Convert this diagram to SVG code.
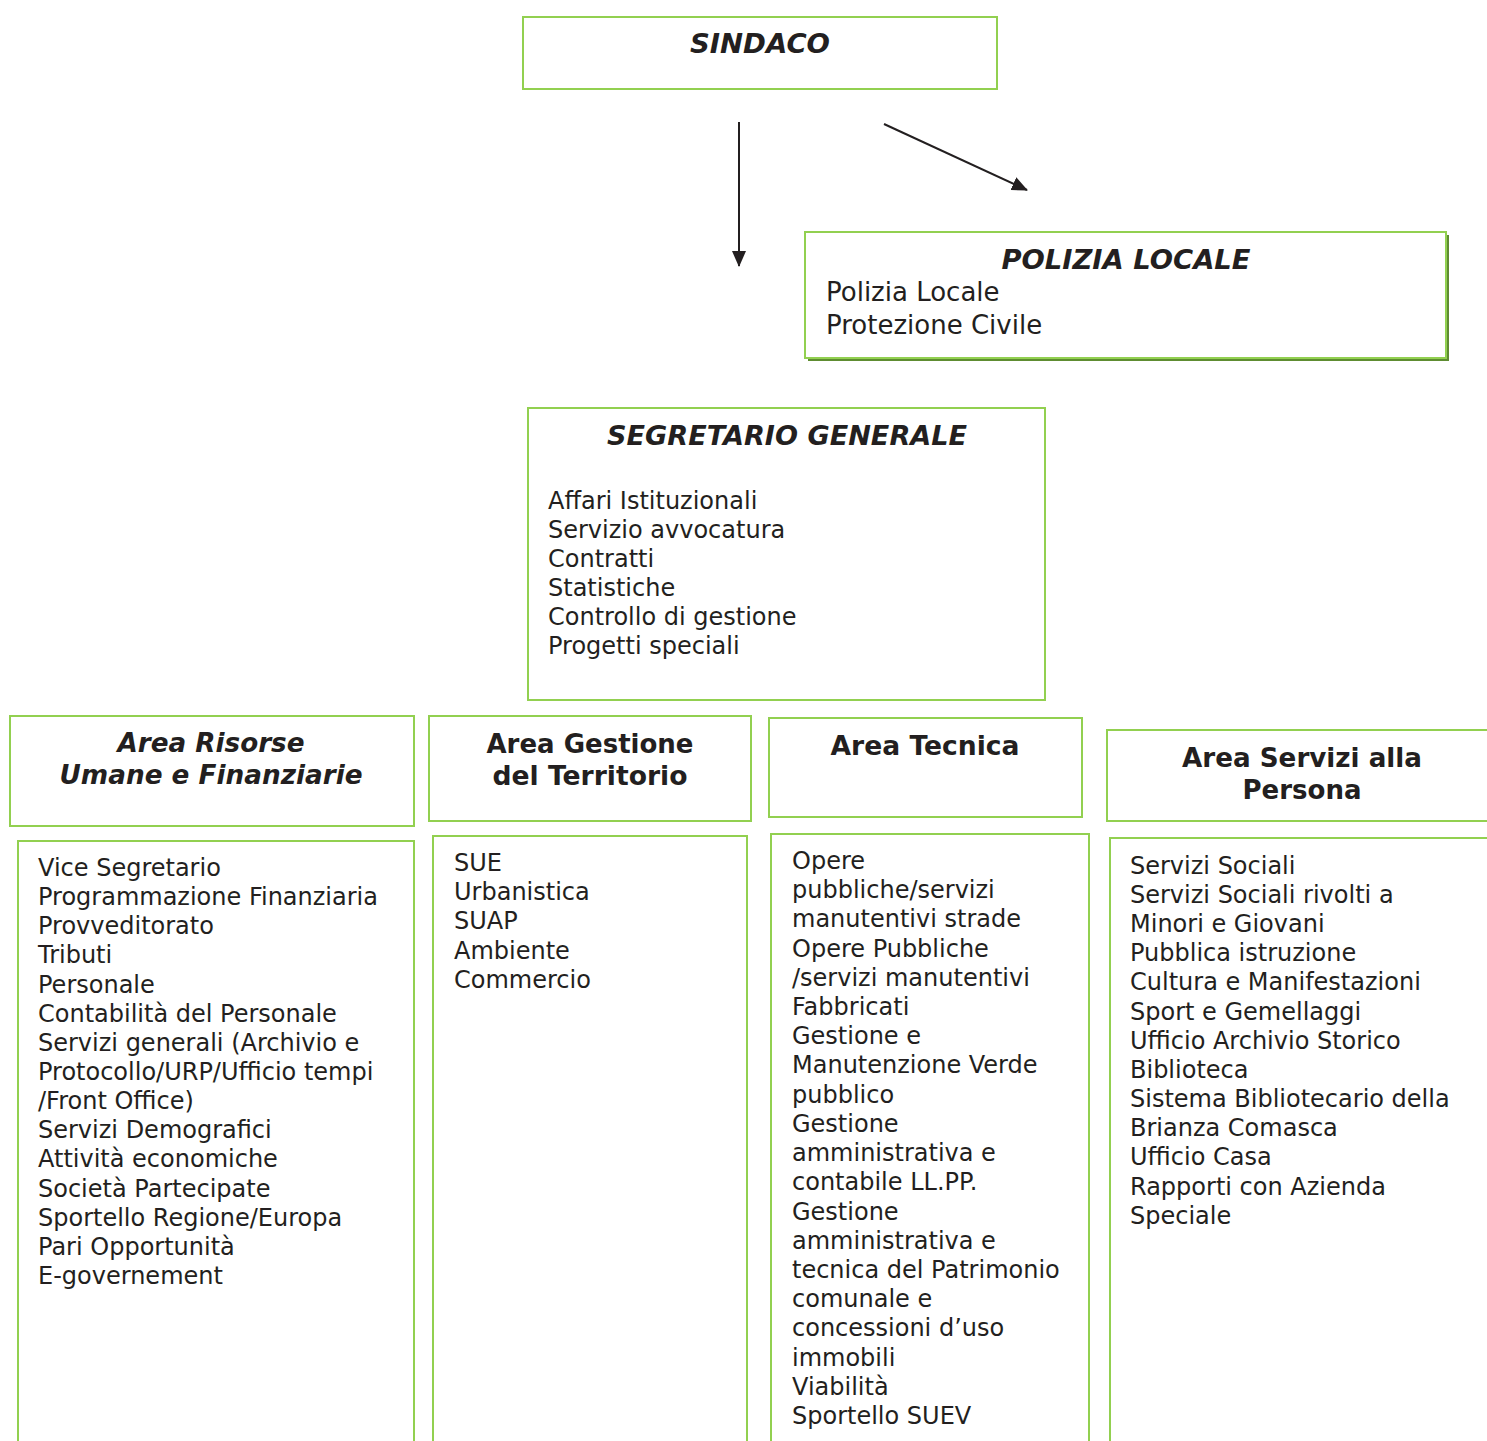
<svg xmlns="http://www.w3.org/2000/svg" width="1487" height="1441" viewBox="0 0 1487 1441">
<defs>
<style>
.box{fill:#fff;stroke:#92D050;stroke-width:2}
.t{font-family:"DejaVu Sans",Verdana,sans-serif;font-size:24px;fill:#231f20}
.p{font-size:26px}
.bi{font-weight:bold;font-style:italic;text-anchor:middle;font-size:26px}
.b{font-weight:bold;text-anchor:middle;font-size:26px}
.conn{stroke:#231f20;stroke-width:2;fill:none}
</style>
<marker id="ah" markerWidth="16" markerHeight="14" refX="15" refY="7" orient="auto" markerUnits="userSpaceOnUse" viewBox="0 0 16 14">
<path d="M0,0 L16,7 L0,14 z" fill="#231f20"/>
</marker>
</defs>
<rect width="1487" height="1441" fill="#fff"/>
<g id="connectors">
<line class="conn" x1="739" y1="122" x2="739" y2="266" marker-end="url(#ah)"/>
<line class="conn" x1="884" y1="124" x2="1027" y2="190" marker-end="url(#ah)"/>
</g>
<g id="sindaco">
<rect class="box" x="523" y="17" width="474" height="72"/>
<text class="t bi" x="760" y="53" textLength="140" lengthAdjust="spacingAndGlyphs">SINDACO</text>
</g>
<g id="polizia">
<rect x="808" y="235" width="641" height="126" fill="#5E8C31"/>
<rect class="box" x="805" y="232" width="641" height="126"/>
<text class="t bi" x="1126" y="269" textLength="249" lengthAdjust="spacingAndGlyphs">POLIZIA LOCALE</text>
<text class="t p" x="826" y="301">Polizia Locale</text>
<text class="t p" x="826" y="334">Protezione Civile</text>
</g>
<g id="segretario">
<rect class="box" x="528" y="408" width="517" height="292"/>
<text class="t bi" x="787" y="445" textLength="360" lengthAdjust="spacingAndGlyphs">SEGRETARIO GENERALE</text>
<text class="t" x="548" y="509">Affari Istituzionali</text>
<text class="t" x="548" y="538">Servizio avvocatura</text>
<text class="t" x="548" y="567">Contratti</text>
<text class="t" x="548" y="596">Statistiche</text>
<text class="t" x="548" y="625">Controllo di gestione</text>
<text class="t" x="548" y="654">Progetti speciali</text>
</g>
<g id="area-risorse">
<rect class="box" x="10" y="716" width="404" height="110"/>
<text class="t bi" x="211" y="752" textLength="187" lengthAdjust="spacingAndGlyphs">Area Risorse</text>
<text class="t bi" x="211" y="784" textLength="303" lengthAdjust="spacingAndGlyphs">Umane e Finanziarie</text>
</g>
<g id="area-risorse-list">
<rect class="box" x="18" y="841" width="396" height="620"/>
<text class="t" x="38" y="876">Vice Segretario</text>
<text class="t" x="38" y="905">Programmazione Finanziaria</text>
<text class="t" x="38" y="934">Provveditorato</text>
<text class="t" x="38" y="963">Tributi</text>
<text class="t" x="38" y="993">Personale</text>
<text class="t" x="38" y="1022">Contabilità del Personale</text>
<text class="t" x="38" y="1051">Servizi generali (Archivio e</text>
<text class="t" x="38" y="1080">Protocollo/URP/Ufficio tempi</text>
<text class="t" x="38" y="1109">/Front Office)</text>
<text class="t" x="38" y="1138">Servizi Demografici</text>
<text class="t" x="38" y="1167">Attività economiche</text>
<text class="t" x="38" y="1197">Società Partecipate</text>
<text class="t" x="38" y="1226">Sportello Regione/Europa</text>
<text class="t" x="38" y="1255">Pari Opportunità</text>
<text class="t" x="38" y="1284">E-governement</text>
</g>
<g id="area-gestione">
<rect class="box" x="429" y="716" width="322" height="105"/>
<text class="t b" x="590" y="753" textLength="207" lengthAdjust="spacingAndGlyphs">Area Gestione</text>
<text class="t b" x="590" y="785" textLength="195" lengthAdjust="spacingAndGlyphs">del Territorio</text>
</g>
<g id="area-gestione-list">
<rect class="box" x="433" y="836" width="314" height="620"/>
<text class="t" x="454" y="871">SUE</text>
<text class="t" x="454" y="900">Urbanistica</text>
<text class="t" x="454" y="929">SUAP</text>
<text class="t" x="454" y="959">Ambiente</text>
<text class="t" x="454" y="988">Commercio</text>
</g>
<g id="area-tecnica">
<rect class="box" x="769" y="718" width="313" height="99"/>
<text class="t b" x="925" y="755" textLength="189" lengthAdjust="spacingAndGlyphs">Area Tecnica</text>
</g>
<g id="area-tecnica-list">
<rect class="box" x="771" y="834" width="318" height="620"/>
<text class="t" x="792" y="869">Opere</text>
<text class="t" x="792" y="898">pubbliche/servizi</text>
<text class="t" x="792" y="927">manutentivi strade</text>
<text class="t" x="792" y="957">Opere Pubbliche</text>
<text class="t" x="792" y="986">/servizi manutentivi</text>
<text class="t" x="792" y="1015">Fabbricati</text>
<text class="t" x="792" y="1044">Gestione e</text>
<text class="t" x="792" y="1073">Manutenzione Verde</text>
<text class="t" x="792" y="1103">pubblico</text>
<text class="t" x="792" y="1132">Gestione</text>
<text class="t" x="792" y="1161">amministrativa e</text>
<text class="t" x="792" y="1190">contabile LL.PP.</text>
<text class="t" x="792" y="1220">Gestione</text>
<text class="t" x="792" y="1249">amministrativa e</text>
<text class="t" x="792" y="1278">tecnica del Patrimonio</text>
<text class="t" x="792" y="1307">comunale e</text>
<text class="t" x="792" y="1336">concessioni d’uso</text>
<text class="t" x="792" y="1366">immobili</text>
<text class="t" x="792" y="1395">Viabilità</text>
<text class="t" x="792" y="1424">Sportello SUEV</text>
</g>
<g id="area-servizi">
<rect class="box" x="1107" y="730" width="400" height="91"/>
<text class="t b" x="1302" y="767" textLength="240" lengthAdjust="spacingAndGlyphs">Area Servizi alla</text>
<text class="t b" x="1302" y="799" textLength="119" lengthAdjust="spacingAndGlyphs">Persona</text>
</g>
<g id="area-servizi-list">
<rect class="box" x="1110" y="838" width="400" height="620"/>
<text class="t" x="1130" y="874">Servizi Sociali</text>
<text class="t" x="1130" y="903">Servizi Sociali rivolti a</text>
<text class="t" x="1130" y="932">Minori e Giovani</text>
<text class="t" x="1130" y="961">Pubblica istruzione</text>
<text class="t" x="1130" y="990">Cultura e Manifestazioni</text>
<text class="t" x="1130" y="1020">Sport e Gemellaggi</text>
<text class="t" x="1130" y="1049">Ufficio Archivio Storico</text>
<text class="t" x="1130" y="1078">Biblioteca</text>
<text class="t" x="1130" y="1107">Sistema Bibliotecario della</text>
<text class="t" x="1130" y="1136">Brianza Comasca</text>
<text class="t" x="1130" y="1165">Ufficio Casa</text>
<text class="t" x="1130" y="1195">Rapporti con Azienda</text>
<text class="t" x="1130" y="1224">Speciale</text>
</g>
</svg>
